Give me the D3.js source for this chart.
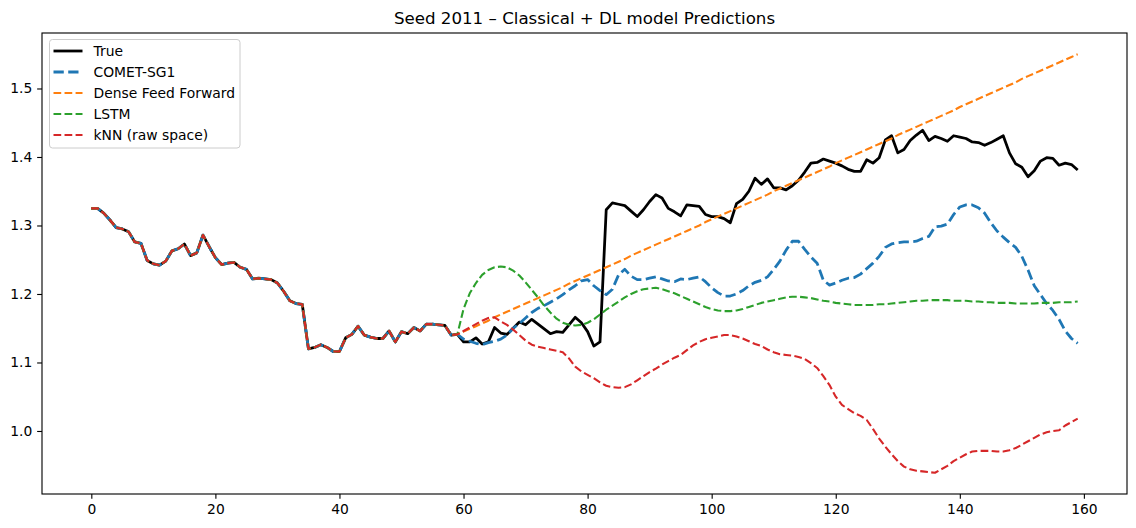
<!DOCTYPE html>
<html>
<head>
<meta charset="utf-8">
<script src="https://cdn.jsdelivr.net/npm/d3@7"></script>
<style>
  body { margin: 0; background: #fff; }
  svg text { font-family: "DejaVu Sans", sans-serif; }
</style>
</head>
<body>
<svg id="chart" width="1136" height="528"></svg>
<script>
// SHARED HISTORY (index 0..59)
var historyVals = [1.325, 1.325, 1.318, 1.308, 1.297, 1.295, 1.291, 1.276, 1.274, 1.249,
  1.244, 1.242, 1.248, 1.263, 1.266, 1.273, 1.256, 1.260, 1.286, 1.269,
  1.253, 1.243, 1.245, 1.246, 1.239, 1.236, 1.222, 1.223, 1.222, 1.221,
  1.216, 1.204, 1.190, 1.186, 1.185, 1.120, 1.122, 1.126, 1.122, 1.116,
  1.116, 1.136, 1.141, 1.153, 1.140, 1.137, 1.135, 1.135, 1.146, 1.130,
  1.145, 1.142, 1.151, 1.146, 1.156, 1.156, 1.155, 1.154, 1.140, 1.141];

// TRUE VALUES, index 60..159
var trueFuture = [1.130, 1.130, 1.136, 1.127, 1.130, 1.151, 1.143, 1.141, 1.150, 1.159,
  1.155, 1.163, 1.156, 1.149, 1.142, 1.145, 1.144, 1.155, 1.166, 1.158,
  1.145, 1.124, 1.130, 1.323, 1.333, 1.331, 1.329, 1.321, 1.313, 1.323,
  1.335, 1.345, 1.340, 1.325, 1.320, 1.314, 1.330, 1.329, 1.328, 1.316,
  1.313, 1.313, 1.310, 1.304, 1.332, 1.338, 1.350, 1.369, 1.360, 1.368,
  1.355, 1.355, 1.352, 1.358, 1.366, 1.378, 1.391, 1.392, 1.397, 1.394,
  1.391, 1.387, 1.382, 1.379, 1.379, 1.396, 1.391, 1.399, 1.425, 1.431,
  1.406, 1.411, 1.424, 1.432, 1.439, 1.424, 1.430, 1.427, 1.423, 1.431,
  1.429, 1.427, 1.422, 1.421, 1.417, 1.421, 1.426, 1.431, 1.406, 1.390,
  1.385, 1.371, 1.380, 1.394, 1.399, 1.398, 1.388, 1.391, 1.389, 1.381];

// MODEL PREDICTIONS, index 60..159
var cometPred = [1.134, 1.131, 1.128, 1.126, 1.129, 1.131, 1.134, 1.140, 1.150, 1.157,
  1.165, 1.173, 1.179, 1.183, 1.188, 1.193, 1.199, 1.206, 1.212, 1.219,
  1.221, 1.212, 1.205, 1.199, 1.207, 1.228, 1.236, 1.226, 1.221, 1.221,
  1.223, 1.225, 1.222, 1.219, 1.218, 1.222, 1.221, 1.223, 1.225, 1.218,
  1.209, 1.202, 1.197, 1.197, 1.200, 1.205, 1.212, 1.217, 1.220, 1.225,
  1.236, 1.248, 1.264, 1.277, 1.277, 1.265, 1.254, 1.245, 1.220, 1.213,
  1.216, 1.220, 1.223, 1.224, 1.229, 1.237, 1.245, 1.255, 1.268, 1.273,
  1.275, 1.276, 1.276, 1.277, 1.281, 1.284, 1.298, 1.299, 1.302, 1.316,
  1.327, 1.330, 1.330, 1.326, 1.318, 1.304, 1.292, 1.283, 1.275, 1.268,
  1.255, 1.235, 1.212, 1.199, 1.186, 1.176, 1.163, 1.146, 1.135, 1.128];

var densePred = [1.145, 1.149, 1.153, 1.157, 1.161, 1.166, 1.170, 1.174, 1.178, 1.182,
  1.186, 1.190, 1.194, 1.198, 1.202, 1.206, 1.210, 1.215, 1.219, 1.223,
  1.227, 1.231, 1.235, 1.239, 1.243, 1.247, 1.251, 1.256, 1.260, 1.264,
  1.268, 1.272, 1.276, 1.280, 1.284, 1.288, 1.292, 1.296, 1.300, 1.305,
  1.309, 1.313, 1.317, 1.321, 1.325, 1.329, 1.333, 1.337, 1.341, 1.345,
  1.350, 1.354, 1.358, 1.362, 1.366, 1.370, 1.374, 1.378, 1.382, 1.386,
  1.391, 1.395, 1.399, 1.403, 1.407, 1.411, 1.415, 1.419, 1.423, 1.427,
  1.432, 1.436, 1.440, 1.444, 1.448, 1.452, 1.456, 1.460, 1.464, 1.468,
  1.473, 1.477, 1.481, 1.485, 1.489, 1.493, 1.497, 1.501, 1.505, 1.509,
  1.514, 1.518, 1.522, 1.526, 1.530, 1.534, 1.538, 1.542, 1.546, 1.550];

var lstmPred = [1.178, 1.201, 1.216, 1.228, 1.235, 1.239, 1.240, 1.239, 1.234, 1.227,
  1.217, 1.206, 1.195, 1.183, 1.173, 1.164, 1.158, 1.155, 1.154, 1.155,
  1.158, 1.163, 1.170, 1.177, 1.183, 1.189, 1.195, 1.200, 1.204, 1.207,
  1.208, 1.209, 1.207, 1.204, 1.201, 1.197, 1.193, 1.189, 1.185, 1.181,
  1.178, 1.176, 1.175, 1.175, 1.176, 1.178, 1.181, 1.184, 1.187, 1.189,
  1.191, 1.193, 1.195, 1.196, 1.196, 1.195, 1.194, 1.192, 1.190, 1.189,
  1.187, 1.186, 1.185, 1.184, 1.184, 1.184, 1.184, 1.185, 1.185, 1.186,
  1.187, 1.188, 1.189, 1.190, 1.190, 1.191, 1.191, 1.191, 1.191, 1.190,
  1.190, 1.190, 1.189, 1.189, 1.188, 1.188, 1.187, 1.187, 1.187, 1.186,
  1.186, 1.186, 1.186, 1.187, 1.187, 1.187, 1.188, 1.188, 1.188, 1.189];

var knnPred = [1.146, 1.151, 1.156, 1.161, 1.165, 1.166, 1.160, 1.155, 1.148, 1.140,
  1.132, 1.126, 1.123, 1.121, 1.119, 1.117, 1.115, 1.106, 1.094, 1.087,
  1.082, 1.077, 1.071, 1.066, 1.064, 1.063, 1.064, 1.068, 1.074, 1.080,
  1.086, 1.091, 1.097, 1.102, 1.107, 1.111, 1.118, 1.125, 1.130, 1.134,
  1.136, 1.138, 1.140, 1.140, 1.138, 1.135, 1.131, 1.127, 1.124, 1.119,
  1.115, 1.112, 1.111, 1.110, 1.108, 1.105, 1.099, 1.092, 1.080, 1.067,
  1.050, 1.038, 1.032, 1.026, 1.022, 1.016, 1.003, 0.989, 0.977, 0.966,
  0.956, 0.948, 0.944, 0.942, 0.941, 0.940, 0.939, 0.944, 0.949, 0.956,
  0.961, 0.966, 0.970, 0.971, 0.971, 0.971, 0.970, 0.970, 0.972, 0.975,
  0.980, 0.985, 0.990, 0.995, 0.998, 1.000, 1.001, 1.008, 1.013, 1.018];

var seriesNames = ["True", "COMET-SG1", "Dense Feed Forward", "LSTM", "kNN (raw space)"];
var seriesColors = ["#000000", "#1f77b4", "#ff7f0e", "#2ca02c", "#d62728"];
var xTicks = [0, 20, 40, 60, 80, 100, 120, 140, 160];
var yTicks = [1.0, 1.1, 1.2, 1.3, 1.4, 1.5];

var plotLeft = 42, plotRight = 1127, plotTop = 33, plotBottom = 494;
var pt = 100 / 72; // points to pixels

var svg = d3.select("#chart");

var x = d3.scaleLinear().domain([-7.95, 166.95]).range([plotLeft, plotRight]);
var y = d3.scaleLinear().domain([0.908, 1.581]).range([plotBottom, plotTop]);

// BUILD EACH SERIES AS history + future
var thick = 2 * pt, thin = 1.5 * pt;
var allSeries = [
  { vals: historyVals.concat(trueFuture), width: thick, dash: null },
  { vals: historyVals.concat(cometPred), width: thick, dash: `${3.7 * thick},${1.6 * thick}` },
  { vals: historyVals.concat(densePred), width: thin, dash: `${3.7 * thin},${1.6 * thin}` },
  { vals: historyVals.concat(lstmPred), width: thin, dash: `${3.7 * thin},${1.6 * thin}` },
  { vals: historyVals.concat(knnPred), width: thin, dash: `${3.7 * thin},${1.6 * thin}` }
];

var line = d3.line()
  .x((d, i) => x(i))
  .y((d) => y(d));

var plot = svg.append("g");
allSeries.forEach(function (s, k) {
  plot.append("path")
    .datum(s.vals)
    .attr("fill", "none")
    .attr("stroke", seriesColors[k])
    .attr("stroke-width", s.width)
    .attr("stroke-dasharray", s.dash)
    .attr("stroke-linejoin", "round")
    .attr("d", line);
});

// AXES
var xAxis = d3.axisBottom(x).tickValues(xTicks).tickSize(3.5 * pt).tickPadding(3.5 * pt).tickFormat(d3.format("d"));
var yAxis = d3.axisLeft(y).tickValues(yTicks).tickSize(3.5 * pt).tickPadding(3.5 * pt).tickFormat(d3.format(".1f"));

var gx = svg.append("g").attr("transform", `translate(0, ${plotBottom})`).call(xAxis);
var gy = svg.append("g").attr("transform", `translate(${plotLeft}, 0)`).call(yAxis);
[gx, gy].forEach(function (g) {
  g.select(".domain").remove();
  g.selectAll(".tick line").attr("stroke", "#000").attr("stroke-width", 0.8 * pt);
  g.selectAll(".tick text")
    .attr("fill", "#000")
    .style("font-size", (10 * pt) + "px")
    .style("font-family", "DejaVu Sans");
});

// FRAME
svg.append("rect")
  .attr("x", plotLeft)
  .attr("y", plotTop)
  .attr("width", plotRight - plotLeft)
  .attr("height", plotBottom - plotTop)
  .attr("fill", "none")
  .attr("stroke", "#000")
  .attr("stroke-width", 0.8 * pt);

// TITLE
svg.append("text")
  .attr("x", (plotLeft + plotRight) / 2)
  .attr("y", 24)
  .attr("text-anchor", "middle")
  .style("font-size", (12 * pt) + "px")
  .text("Seed 2011 \u2013 Classical + DL model Predictions");

// LEGEND
var legend = svg.append("g");
legend.append("rect")
  .attr("x", 49.5)
  .attr("y", 39.5)
  .attr("width", 190.5)
  .attr("height", 108.5)
  .attr("rx", 3)
  .attr("fill", "#fff")
  .attr("fill-opacity", 0.8)
  .attr("stroke", "#cccccc")
  .attr("stroke-width", 1);

seriesNames.forEach(function (name, k) {
  var ly = 51 + k * 21;
  legend.append("line")
    .attr("x1", 53.5)
    .attr("x2", 82.5)
    .attr("y1", ly)
    .attr("y2", ly)
    .attr("stroke", seriesColors[k])
    .attr("stroke-width", allSeries[k].width)
    .attr("stroke-dasharray", allSeries[k].dash);
  legend.append("text")
    .attr("x", 93.5)
    .attr("y", ly + 5)
    .style("font-size", (10 * pt) + "px")
    .text(name);
});
</script>
</body>
</html>
